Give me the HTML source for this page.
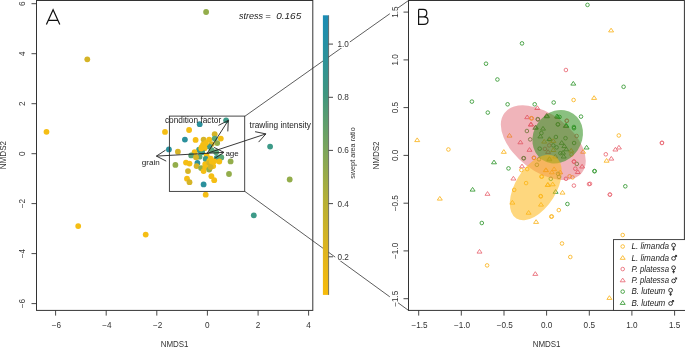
<!DOCTYPE html><html><head><meta charset="utf-8"><style>html,body{margin:0;padding:0;background:#fff;overflow:hidden}svg{display:block;will-change:transform}</style></head><body><svg width="685" height="347" viewBox="0 0 685 347">
<rect width="685" height="347" fill="#fff"/>
<path d="M244.8,116.3L408.5,0.5M244.8,191.4L408.5,310.4" stroke="#333" stroke-width="0.8" fill="none"/>
<circle cx="46.5" cy="131.8" r="2.9" fill="#f5be14"/>
<circle cx="87.3" cy="59.3" r="2.9" fill="#d5b427"/>
<circle cx="78.2" cy="226.1" r="2.9" fill="#f5be14"/>
<circle cx="145.7" cy="234.6" r="2.9" fill="#f5be14"/>
<circle cx="206.1" cy="12.0" r="2.9" fill="#93ad4b"/>
<circle cx="270.1" cy="146.6" r="2.9" fill="#3d9a88"/>
<circle cx="289.7" cy="179.5" r="2.9" fill="#93ad4b"/>
<circle cx="253.8" cy="215.3" r="2.9" fill="#3d9a88"/>
<circle cx="230.6" cy="161.4" r="2.9" fill="#93ad4b"/>
<circle cx="229.0" cy="174.0" r="2.9" fill="#93ad4b"/>
<circle cx="205.7" cy="194.7" r="2.9" fill="#f5be14"/>
<circle cx="197.4" cy="163.0" r="2.9" fill="#2b909c"/>
<circle cx="165.0" cy="131.9" r="2.9" fill="#f5be14"/>
<circle cx="189.1" cy="130.0" r="2.9" fill="#f5be14"/>
<circle cx="199.7" cy="124.2" r="2.9" fill="#2b909c"/>
<circle cx="184.9" cy="139.6" r="2.9" fill="#2b909c"/>
<circle cx="195.6" cy="139.9" r="2.9" fill="#f5be14"/>
<circle cx="168.9" cy="149.4" r="2.9" fill="#2b909c"/>
<circle cx="177.9" cy="151.7" r="2.9" fill="#d5b427"/>
<circle cx="226.1" cy="120.3" r="2.9" fill="#3d9a88"/>
<circle cx="203.6" cy="139.6" r="2.9" fill="#d5b427"/>
<circle cx="209.2" cy="139.6" r="2.9" fill="#f5be14"/>
<circle cx="214.7" cy="134.2" r="2.9" fill="#d5b427"/>
<circle cx="220.8" cy="138.6" r="2.9" fill="#f5be14"/>
<circle cx="214.7" cy="138.6" r="2.9" fill="#5aa677"/>
<circle cx="217.2" cy="143.1" r="2.9" fill="#93ad4b"/>
<circle cx="211.7" cy="144.1" r="2.9" fill="#d5b427"/>
<circle cx="209.2" cy="146.6" r="2.9" fill="#3d9a88"/>
<circle cx="199.1" cy="149.7" r="2.9" fill="#3d9a88"/>
<circle cx="211.7" cy="150.2" r="2.9" fill="#5aa677"/>
<circle cx="216.2" cy="152.2" r="2.9" fill="#5aa677"/>
<circle cx="220.8" cy="157.2" r="2.9" fill="#5aa677"/>
<circle cx="203.1" cy="144.6" r="2.9" fill="#f5be14"/>
<circle cx="206.0" cy="143.0" r="2.9" fill="#f5be14"/>
<circle cx="201.6" cy="147.1" r="2.9" fill="#f5be14"/>
<circle cx="204.6" cy="148.2" r="2.9" fill="#f5be14"/>
<circle cx="194.6" cy="152.2" r="2.9" fill="#f5be14"/>
<circle cx="200.1" cy="150.4" r="2.9" fill="#3d9a88"/>
<circle cx="202.1" cy="152.2" r="2.9" fill="#3d9a88"/>
<circle cx="191.2" cy="155.4" r="2.9" fill="#5aa677"/>
<circle cx="199.6" cy="156.7" r="2.9" fill="#5aa677"/>
<circle cx="196.0" cy="157.2" r="2.9" fill="#d5b427"/>
<circle cx="206.7" cy="155.7" r="2.9" fill="#f5be14"/>
<circle cx="201.3" cy="148.6" r="2.9" fill="#f5be14"/>
<circle cx="205.7" cy="159.0" r="2.9" fill="#3d9a88"/>
<circle cx="210.7" cy="158.6" r="2.9" fill="#f5be14"/>
<circle cx="216.7" cy="158.0" r="2.9" fill="#3d9a88"/>
<circle cx="221.3" cy="157.5" r="2.9" fill="#5aa677"/>
<circle cx="219.3" cy="161.5" r="2.9" fill="#f5be14"/>
<circle cx="209.2" cy="161.2" r="2.9" fill="#f5be14"/>
<circle cx="214.2" cy="161.2" r="2.9" fill="#f5be14"/>
<circle cx="186.0" cy="162.6" r="2.9" fill="#f5be14"/>
<circle cx="189.5" cy="163.6" r="2.9" fill="#f5be14"/>
<circle cx="196.6" cy="166.1" r="2.9" fill="#d5b427"/>
<circle cx="205.2" cy="164.1" r="2.9" fill="#f5be14"/>
<circle cx="209.2" cy="163.1" r="2.9" fill="#d5b427"/>
<circle cx="211.7" cy="161.5" r="2.9" fill="#f5be14"/>
<circle cx="213.2" cy="166.1" r="2.9" fill="#f5be14"/>
<circle cx="201.1" cy="168.1" r="2.9" fill="#93ad4b"/>
<circle cx="205.2" cy="167.1" r="2.9" fill="#f5be14"/>
<circle cx="203.6" cy="171.1" r="2.9" fill="#f5be14"/>
<circle cx="209.2" cy="169.6" r="2.9" fill="#93ad4b"/>
<circle cx="210.7" cy="167.1" r="2.9" fill="#d5b427"/>
<circle cx="188.0" cy="171.1" r="2.9" fill="#d5b427"/>
<circle cx="187.0" cy="178.7" r="2.9" fill="#f5be14"/>
<circle cx="189.5" cy="182.2" r="2.9" fill="#d5b427"/>
<circle cx="211.4" cy="176.2" r="2.9" fill="#f5be14"/>
<circle cx="214.2" cy="180.2" r="2.9" fill="#f5be14"/>
<circle cx="203.6" cy="184.4" r="2.9" fill="#2b909c"/>
<circle cx="175.4" cy="164.9" r="2.9" fill="#93ad4b"/>
<rect x="169.4" y="116.1" width="75.3" height="75.3" fill="none" stroke="#333" stroke-width="0.9"/>
<path d="M207.2,153.3L228.3,120.4M218.5,125.4L228.3,120.4M227.8,131.4L228.3,120.4" stroke="#222" stroke-width="0.9" fill="none"/>
<path d="M207.2,153.3L265.9,133.9M255.1,131.7L265.9,133.9M258.6,142.1L265.9,133.9" stroke="#222" stroke-width="0.9" fill="none"/>
<path d="M207.2,153.3L223.9,152.4M214.1,147.4L223.9,152.4M214.7,158.4L223.9,152.4" stroke="#222" stroke-width="0.9" fill="none"/>
<path d="M207.2,153.3L156.4,156.1M166.2,161.1L156.4,156.1M165.6,150.1L156.4,156.1" stroke="#222" stroke-width="0.9" fill="none"/>
<text x="164.9" y="122.8" font-family="Liberation Sans" font-size="8.3" fill="#222">condition factor</text>
<text x="249.6" y="127.7" font-family="Liberation Sans" font-size="8.3" fill="#222">trawling intensity</text>
<text x="141.7" y="164.7" font-family="Liberation Sans" font-size="8.1" fill="#222">grain</text>
<text x="225.4" y="156.4" font-family="Liberation Sans" font-size="8.0" fill="#222">age</text>
<text x="238.9" y="18.8" font-family="Liberation Sans" font-size="9.3" font-style="italic" fill="#222" textLength="24.2" lengthAdjust="spacingAndGlyphs">stress</text>
<text x="265.2" y="18.8" font-family="Liberation Sans" font-size="9.3" font-style="italic" fill="#222">=</text>
<text x="276.2" y="18.8" font-family="Liberation Sans" font-size="9.3" font-style="italic" fill="#222" textLength="25.0" lengthAdjust="spacingAndGlyphs">0.165</text>
<rect x="36.5" y="0.5" width="276.3" height="309.9" fill="none" stroke="#333" stroke-width="1"/>
<path d="M46.4,24.5L53.1,9.8L59.8,24.5M48.3,20.4L57.9,20.4" stroke="#111" stroke-width="1.2" fill="none"/>
<path d="M55.6,310.4L55.6,315.59999999999997M106.2,310.4L106.2,315.59999999999997M156.8,310.4L156.8,315.59999999999997M207.4,310.4L207.4,315.59999999999997M258.1,310.4L258.1,315.59999999999997M308.6,310.4L308.6,315.59999999999997M36.5,303.6L31.5,303.6M36.5,253.6L31.5,253.6M36.5,203.6L31.5,203.6M36.5,153.7L31.5,153.7M36.5,103.7L31.5,103.7M36.5,53.7L31.5,53.7M36.5,3.7L31.5,3.7" stroke="#333" stroke-width="0.9" fill="none"/>
<text x="56.4" y="327.7" font-family="Liberation Sans" font-size="8.2" fill="#333" text-anchor="middle">−6</text>
<text x="107.0" y="327.7" font-family="Liberation Sans" font-size="8.2" fill="#333" text-anchor="middle">−4</text>
<text x="157.7" y="327.7" font-family="Liberation Sans" font-size="8.2" fill="#333" text-anchor="middle">−2</text>
<text x="207.4" y="327.7" font-family="Liberation Sans" font-size="8.2" fill="#333" text-anchor="middle">0</text>
<text x="258.1" y="327.7" font-family="Liberation Sans" font-size="8.2" fill="#333" text-anchor="middle">2</text>
<text x="308.6" y="327.7" font-family="Liberation Sans" font-size="8.2" fill="#333" text-anchor="middle">4</text>
<text transform="translate(24.7,303.6) rotate(-90)" font-family="Liberation Sans" font-size="8.2" fill="#333" text-anchor="middle">−6</text>
<text transform="translate(24.7,253.6) rotate(-90)" font-family="Liberation Sans" font-size="8.2" fill="#333" text-anchor="middle">−4</text>
<text transform="translate(24.7,203.6) rotate(-90)" font-family="Liberation Sans" font-size="8.2" fill="#333" text-anchor="middle">−2</text>
<text transform="translate(24.7,153.7) rotate(-90)" font-family="Liberation Sans" font-size="8.2" fill="#333" text-anchor="middle">0</text>
<text transform="translate(24.7,103.7) rotate(-90)" font-family="Liberation Sans" font-size="8.2" fill="#333" text-anchor="middle">2</text>
<text transform="translate(24.7,53.7) rotate(-90)" font-family="Liberation Sans" font-size="8.2" fill="#333" text-anchor="middle">4</text>
<text transform="translate(24.7,3.7) rotate(-90)" font-family="Liberation Sans" font-size="8.2" fill="#333" text-anchor="middle">6</text>
<text x="174.6" y="346.6" font-family="Liberation Sans" font-size="8.6" fill="#333" text-anchor="middle" textLength="27.9" lengthAdjust="spacingAndGlyphs">NMDS1</text>
<text transform="translate(6.4,155.1) rotate(-90)" font-family="Liberation Sans" font-size="8.6" fill="#333" text-anchor="middle" textLength="28.2" lengthAdjust="spacingAndGlyphs">NMDS2</text>
<defs><linearGradient id="cb" x1="0" y1="1" x2="0" y2="0"><stop offset="0" stop-color="#f7bb0a"/><stop offset="0.14" stop-color="#e2b51c"/><stop offset="0.33" stop-color="#b8b034"/><stop offset="0.52" stop-color="#7ca65c"/><stop offset="0.72" stop-color="#3f9680"/><stop offset="0.9" stop-color="#2590a4"/><stop offset="1" stop-color="#1b8cb4"/></linearGradient></defs>
<rect x="322.9" y="15.3" width="5.6" height="279.6" fill="url(#cb)"/>
<path d="M328.6,15.3L328.6,294.9" stroke="#444" stroke-width="0.7" fill="none"/>
<rect x="335.2" y="39.9" width="14.6" height="8.2" fill="#fff"/>
<text x="337.4" y="47.1" font-family="Liberation Sans" font-size="8.2" fill="#333">1.0</text>
<text x="337.4" y="100.3" font-family="Liberation Sans" font-size="8.2" fill="#333">0.8</text>
<text x="337.4" y="153.4" font-family="Liberation Sans" font-size="8.2" fill="#333">0.6</text>
<text x="337.4" y="206.6" font-family="Liberation Sans" font-size="8.2" fill="#333">0.4</text>
<rect x="335.2" y="252.6" width="14.6" height="8.2" fill="#fff"/>
<text x="337.4" y="259.8" font-family="Liberation Sans" font-size="8.2" fill="#333">0.2</text>
<path d="M328.6,44.1L333.0,44.1M328.6,97.3L333.0,97.3M328.6,150.4L333.0,150.4M328.6,203.6L333.0,203.6M328.6,256.8L333.0,256.8" stroke="#333" stroke-width="0.9" fill="none"/>
<text transform="translate(355.4,153.0) rotate(-90)" font-family="Liberation Sans" font-size="7.5" fill="#333" text-anchor="middle" textLength="51.5" lengthAdjust="spacingAndGlyphs">swept area ratio</text>
<circle cx="486.0" cy="63.7" r="1.8" fill="none" stroke="#3d9d3a" stroke-width="0.9"/>
<circle cx="587.5" cy="4.9" r="1.8" fill="none" stroke="#3d9d3a" stroke-width="0.9"/>
<circle cx="522.0" cy="43.4" r="1.8" fill="none" stroke="#3d9d3a" stroke-width="0.9"/>
<circle cx="565.9" cy="70.0" r="1.8" fill="none" stroke="#ea6f7a" stroke-width="0.9"/>
<path d="M611.1,28.2L613.6,31.9L608.6,31.9Z" fill="none" stroke="#fbb829" stroke-width="0.9" stroke-linejoin="round"/>
<path d="M573.3,81.4L575.8,85.1L570.8,85.1Z" fill="none" stroke="#3d9d3a" stroke-width="0.9" stroke-linejoin="round"/>
<circle cx="623.6" cy="86.8" r="1.8" fill="none" stroke="#3d9d3a" stroke-width="0.9"/>
<circle cx="553.7" cy="102.5" r="1.8" fill="none" stroke="#3d9d3a" stroke-width="0.9"/>
<circle cx="573.6" cy="100.0" r="1.8" fill="none" stroke="#fbb829" stroke-width="0.9"/>
<path d="M594.1,95.7L596.6,99.4L591.6,99.4Z" fill="none" stroke="#fbb829" stroke-width="0.9" stroke-linejoin="round"/>
<circle cx="581.0" cy="116.6" r="1.8" fill="none" stroke="#3d9d3a" stroke-width="0.9"/>
<circle cx="497.4" cy="79.5" r="1.8" fill="none" stroke="#3d9d3a" stroke-width="0.9"/>
<circle cx="471.9" cy="101.6" r="1.8" fill="none" stroke="#3d9d3a" stroke-width="0.9"/>
<circle cx="487.8" cy="112.6" r="1.8" fill="none" stroke="#3d9d3a" stroke-width="0.9"/>
<circle cx="507.6" cy="104.3" r="1.8" fill="none" stroke="#3d9d3a" stroke-width="0.9"/>
<circle cx="534.7" cy="104.3" r="1.8" fill="none" stroke="#3d9d3a" stroke-width="0.9"/>
<path d="M537.3,105.8L539.8,109.5L534.8,109.5Z" fill="none" stroke="#ea6f7a" stroke-width="0.9" stroke-linejoin="round"/>
<path d="M527.2,115.0L529.7,118.7L524.7,118.7Z" fill="none" stroke="#ea6f7a" stroke-width="0.9" stroke-linejoin="round"/>
<circle cx="531.8" cy="118.4" r="1.8" fill="none" stroke="#fbb829" stroke-width="0.9"/>
<circle cx="537.9" cy="119.5" r="1.8" fill="none" stroke="#3d9d3a" stroke-width="0.9"/>
<path d="M531.1,122.2L533.6,125.9L528.6,125.9Z" fill="none" stroke="#ea6f7a" stroke-width="0.9" stroke-linejoin="round"/>
<path d="M547.0,113.6L549.5,117.3L544.5,117.3Z" fill="none" stroke="#3d9d3a" stroke-width="0.9" stroke-linejoin="round"/>
<path d="M546.5,113.6L549.0,117.3L544.0,117.3Z" fill="none" stroke="#3d9d3a" stroke-width="0.9" stroke-linejoin="round"/>
<path d="M557.0,114.0L559.5,117.7L554.5,117.7Z" fill="none" stroke="#3d9d3a" stroke-width="0.9" stroke-linejoin="round"/>
<circle cx="559.5" cy="117.0" r="1.8" fill="none" stroke="#3d9d3a" stroke-width="0.9"/>
<circle cx="566.7" cy="120.8" r="1.8" fill="none" stroke="#ea6f7a" stroke-width="0.9"/>
<circle cx="558.0" cy="124.4" r="1.8" fill="none" stroke="#3d9d3a" stroke-width="0.9"/>
<path d="M566.3,123.4L568.8,127.1L563.8,127.1Z" fill="none" stroke="#3d9d3a" stroke-width="0.9" stroke-linejoin="round"/>
<circle cx="573.9" cy="127.0" r="1.8" fill="none" stroke="#3d9d3a" stroke-width="0.9"/>
<circle cx="618.8" cy="135.5" r="1.8" fill="none" stroke="#fbb829" stroke-width="0.9"/>
<circle cx="662.0" cy="142.8" r="1.8" fill="none" stroke="#ea6f7a" stroke-width="0.9"/>
<path d="M615.4,147.3L617.9,151.0L612.9,151.0Z" fill="none" stroke="#ea6f7a" stroke-width="0.9" stroke-linejoin="round"/>
<path d="M618.9,145.3L621.4,149.0L616.4,149.0Z" fill="none" stroke="#ea6f7a" stroke-width="0.9" stroke-linejoin="round"/>
<circle cx="605.8" cy="154.3" r="1.8" fill="none" stroke="#ea6f7a" stroke-width="0.9"/>
<path d="M611.3,156.4L613.8,160.1L608.8,160.1Z" fill="none" stroke="#ea6f7a" stroke-width="0.9" stroke-linejoin="round"/>
<path d="M606.6,158.5L609.1,162.2L604.1,162.2Z" fill="none" stroke="#fbb829" stroke-width="0.9" stroke-linejoin="round"/>
<path d="M417.2,137.9L419.7,141.6L414.7,141.6Z" fill="none" stroke="#fbb829" stroke-width="0.9" stroke-linejoin="round"/>
<circle cx="448.4" cy="149.5" r="1.8" fill="none" stroke="#fbb829" stroke-width="0.9"/>
<path d="M494.0,160.1L496.5,163.8L491.5,163.8Z" fill="none" stroke="#3d9d3a" stroke-width="0.9" stroke-linejoin="round"/>
<path d="M472.6,187.4L475.1,191.1L470.1,191.1Z" fill="none" stroke="#3d9d3a" stroke-width="0.9" stroke-linejoin="round"/>
<path d="M487.5,191.6L490.0,195.3L485.0,195.3Z" fill="none" stroke="#ea6f7a" stroke-width="0.9" stroke-linejoin="round"/>
<path d="M439.8,196.4L442.3,200.1L437.3,200.1Z" fill="none" stroke="#fbb829" stroke-width="0.9" stroke-linejoin="round"/>
<path d="M530.8,122.3L533.3,126.0L528.3,126.0Z" fill="none" stroke="#ea6f7a" stroke-width="0.9" stroke-linejoin="round"/>
<path d="M535.3,125.6L537.8,129.3L532.8,129.3Z" fill="none" stroke="#3d9d3a" stroke-width="0.9" stroke-linejoin="round"/>
<circle cx="526.9" cy="131.0" r="1.8" fill="none" stroke="#3d9d3a" stroke-width="0.9"/>
<path d="M509.5,133.4L512.0,137.1L507.0,137.1Z" fill="none" stroke="#fbb829" stroke-width="0.9" stroke-linejoin="round"/>
<circle cx="530.2" cy="139.4" r="1.8" fill="none" stroke="#3d9d3a" stroke-width="0.9"/>
<path d="M520.4,140.1L522.9,143.8L517.9,143.8Z" fill="none" stroke="#ea6f7a" stroke-width="0.9" stroke-linejoin="round"/>
<path d="M529.5,147.6L532.0,151.3L527.0,151.3Z" fill="none" stroke="#ea6f7a" stroke-width="0.9" stroke-linejoin="round"/>
<path d="M503.8,149.6L506.3,153.3L501.3,153.3Z" fill="none" stroke="#fbb829" stroke-width="0.9" stroke-linejoin="round"/>
<circle cx="523.9" cy="158.2" r="1.8" fill="none" stroke="#3d9d3a" stroke-width="0.9"/>
<circle cx="533.9" cy="157.8" r="1.8" fill="none" stroke="#fbb829" stroke-width="0.9"/>
<path d="M546.8,114.1L549.3,117.8L544.3,117.8Z" fill="none" stroke="#3d9d3a" stroke-width="0.9" stroke-linejoin="round"/>
<path d="M557.8,114.8L560.3,118.5L555.3,118.5Z" fill="none" stroke="#3d9d3a" stroke-width="0.9" stroke-linejoin="round"/>
<circle cx="537.8" cy="119.1" r="1.8" fill="none" stroke="#3d9d3a" stroke-width="0.9"/>
<circle cx="531.3" cy="118.2" r="1.8" fill="none" stroke="#fbb829" stroke-width="0.9"/>
<circle cx="566.9" cy="120.8" r="1.8" fill="none" stroke="#ea6f7a" stroke-width="0.9"/>
<circle cx="557.8" cy="124.3" r="1.8" fill="none" stroke="#3d9d3a" stroke-width="0.9"/>
<path d="M566.3,123.8L568.8,127.5L563.8,127.5Z" fill="none" stroke="#3d9d3a" stroke-width="0.9" stroke-linejoin="round"/>
<circle cx="574.0" cy="128.2" r="1.8" fill="none" stroke="#3d9d3a" stroke-width="0.9"/>
<path d="M535.8,125.1L538.3,128.8L533.3,128.8Z" fill="none" stroke="#3d9d3a" stroke-width="0.9" stroke-linejoin="round"/>
<path d="M543.0,126.4L545.5,130.1L540.5,130.1Z" fill="none" stroke="#3d9d3a" stroke-width="0.9" stroke-linejoin="round"/>
<circle cx="541.4" cy="133.1" r="1.8" fill="none" stroke="#3d9d3a" stroke-width="0.9"/>
<path d="M540.4,134.2L542.9,137.9L537.9,137.9Z" fill="none" stroke="#3d9d3a" stroke-width="0.9" stroke-linejoin="round"/>
<circle cx="555.9" cy="137.0" r="1.8" fill="none" stroke="#3d9d3a" stroke-width="0.9"/>
<circle cx="576.6" cy="136.0" r="1.8" fill="none" stroke="#ea6f7a" stroke-width="0.9"/>
<circle cx="565.5" cy="138.2" r="1.8" fill="none" stroke="#3d9d3a" stroke-width="0.9"/>
<path d="M544.2,139.4L546.7,143.1L541.7,143.1Z" fill="none" stroke="#fbb829" stroke-width="0.9" stroke-linejoin="round"/>
<circle cx="550.1" cy="140.3" r="1.8" fill="none" stroke="#fbb829" stroke-width="0.9"/>
<path d="M549.4,136.8L551.9,140.5L546.9,140.5Z" fill="none" stroke="#3d9d3a" stroke-width="0.9" stroke-linejoin="round"/>
<path d="M553.3,138.7L555.8,142.4L550.8,142.4Z" fill="none" stroke="#fbb829" stroke-width="0.9" stroke-linejoin="round"/>
<circle cx="574.1" cy="143.0" r="1.8" fill="none" stroke="#3d9d3a" stroke-width="0.9"/>
<circle cx="553.3" cy="145.4" r="1.8" fill="none" stroke="#3d9d3a" stroke-width="0.9"/>
<circle cx="556.6" cy="147.4" r="1.8" fill="none" stroke="#3d9d3a" stroke-width="0.9"/>
<circle cx="549.2" cy="145.4" r="1.8" fill="none" stroke="#ea6f7a" stroke-width="0.9"/>
<path d="M561.7,140.6L564.2,144.3L559.2,144.3Z" fill="none" stroke="#3d9d3a" stroke-width="0.9" stroke-linejoin="round"/>
<path d="M564.3,143.9L566.8,147.6L561.8,147.6Z" fill="none" stroke="#3d9d3a" stroke-width="0.9" stroke-linejoin="round"/>
<circle cx="539.7" cy="148.7" r="1.8" fill="none" stroke="#3d9d3a" stroke-width="0.9"/>
<circle cx="544.9" cy="148.9" r="1.8" fill="none" stroke="#ea6f7a" stroke-width="0.9"/>
<path d="M566.3,147.1L568.8,150.8L563.8,150.8Z" fill="none" stroke="#3d9d3a" stroke-width="0.9" stroke-linejoin="round"/>
<path d="M571.2,148.4L573.7,152.1L568.7,152.1Z" fill="none" stroke="#fbb829" stroke-width="0.9" stroke-linejoin="round"/>
<path d="M563.0,150.4L565.5,154.1L560.5,154.1Z" fill="none" stroke="#3d9d3a" stroke-width="0.9" stroke-linejoin="round"/>
<path d="M553.3,147.8L555.8,151.5L550.8,151.5Z" fill="none" stroke="#fbb829" stroke-width="0.9" stroke-linejoin="round"/>
<path d="M548.1,149.7L550.6,153.4L545.6,153.4Z" fill="none" stroke="#ea6f7a" stroke-width="0.9" stroke-linejoin="round"/>
<circle cx="560.4" cy="153.2" r="1.8" fill="none" stroke="#3d9d3a" stroke-width="0.9"/>
<circle cx="571.5" cy="154.5" r="1.8" fill="none" stroke="#fbb829" stroke-width="0.9"/>
<path d="M555.3,154.3L557.8,158.0L552.8,158.0Z" fill="none" stroke="#fbb829" stroke-width="0.9" stroke-linejoin="round"/>
<path d="M563.7,154.3L566.2,158.0L561.2,158.0Z" fill="none" stroke="#3d9d3a" stroke-width="0.9" stroke-linejoin="round"/>
<path d="M549.4,156.2L551.9,159.9L546.9,159.9Z" fill="none" stroke="#fbb829" stroke-width="0.9" stroke-linejoin="round"/>
<path d="M565.8,123.6L568.3,127.3L563.3,127.3Z" fill="none" stroke="#3d9d3a" stroke-width="0.9" stroke-linejoin="round"/>
<path d="M586.6,145.3L589.1,149.0L584.1,149.0Z" fill="none" stroke="#3d9d3a" stroke-width="0.9" stroke-linejoin="round"/>
<path d="M583.1,149.5L585.6,153.2L580.6,153.2Z" fill="none" stroke="#fbb829" stroke-width="0.9" stroke-linejoin="round"/>
<circle cx="574.0" cy="161.7" r="1.8" fill="none" stroke="#ea6f7a" stroke-width="0.9"/>
<circle cx="576.8" cy="163.9" r="1.8" fill="none" stroke="#3d9d3a" stroke-width="0.9"/>
<circle cx="661.9" cy="143.0" r="1.8" fill="none" stroke="#ea6f7a" stroke-width="0.9"/>
<circle cx="594.6" cy="171.1" r="1.8" fill="none" stroke="#3d9d3a" stroke-width="0.9"/>
<circle cx="590.0" cy="183.8" r="1.8" fill="none" stroke="#ea6f7a" stroke-width="0.9"/>
<circle cx="625.3" cy="186.3" r="1.8" fill="none" stroke="#3d9d3a" stroke-width="0.9"/>
<circle cx="609.8" cy="194.6" r="1.8" fill="none" stroke="#ea6f7a" stroke-width="0.9"/>
<path d="M549.4,157.1L551.9,160.8L546.9,160.8Z" fill="none" stroke="#3d9d3a" stroke-width="0.9" stroke-linejoin="round"/>
<circle cx="573.9" cy="161.5" r="1.8" fill="none" stroke="#ea6f7a" stroke-width="0.9"/>
<path d="M582.1,164.3L584.6,168.0L579.6,168.0Z" fill="none" stroke="#ea6f7a" stroke-width="0.9" stroke-linejoin="round"/>
<circle cx="575.3" cy="168.7" r="1.8" fill="none" stroke="#ea6f7a" stroke-width="0.9"/>
<path d="M577.8,169.8L580.3,173.5L575.3,173.5Z" fill="none" stroke="#ea6f7a" stroke-width="0.9" stroke-linejoin="round"/>
<path d="M545.8,167.9L548.3,171.6L543.3,171.6Z" fill="none" stroke="#fbb829" stroke-width="0.9" stroke-linejoin="round"/>
<path d="M554.1,166.9L556.6,170.6L551.6,170.6Z" fill="none" stroke="#fbb829" stroke-width="0.9" stroke-linejoin="round"/>
<path d="M551.8,170.1L554.3,173.8L549.3,173.8Z" fill="none" stroke="#fbb829" stroke-width="0.9" stroke-linejoin="round"/>
<path d="M560.2,170.1L562.7,173.8L557.7,173.8Z" fill="none" stroke="#fbb829" stroke-width="0.9" stroke-linejoin="round"/>
<circle cx="558.0" cy="173.8" r="1.8" fill="none" stroke="#3d9d3a" stroke-width="0.9"/>
<circle cx="559.0" cy="176.9" r="1.8" fill="none" stroke="#3d9d3a" stroke-width="0.9"/>
<circle cx="541.4" cy="176.6" r="1.8" fill="none" stroke="#fbb829" stroke-width="0.9"/>
<circle cx="550.8" cy="178.8" r="1.8" fill="none" stroke="#3d9d3a" stroke-width="0.9"/>
<circle cx="566.0" cy="178.8" r="1.8" fill="none" stroke="#ea6f7a" stroke-width="0.9"/>
<circle cx="569.6" cy="176.3" r="1.8" fill="none" stroke="#fbb829" stroke-width="0.9"/>
<circle cx="572.5" cy="177.4" r="1.8" fill="none" stroke="#fbb829" stroke-width="0.9"/>
<circle cx="594.5" cy="171.2" r="1.8" fill="none" stroke="#3d9d3a" stroke-width="0.9"/>
<circle cx="573.9" cy="185.6" r="1.8" fill="none" stroke="#ea6f7a" stroke-width="0.9"/>
<circle cx="589.0" cy="184.1" r="1.8" fill="none" stroke="#ea6f7a" stroke-width="0.9"/>
<path d="M547.9,182.4L550.4,186.1L545.4,186.1Z" fill="none" stroke="#fbb829" stroke-width="0.9" stroke-linejoin="round"/>
<path d="M552.7,182.1L555.2,185.8L550.2,185.8Z" fill="none" stroke="#fbb829" stroke-width="0.9" stroke-linejoin="round"/>
<path d="M555.6,189.6L558.1,193.3L553.1,193.3Z" fill="none" stroke="#3d9d3a" stroke-width="0.9" stroke-linejoin="round"/>
<path d="M562.5,190.4L565.0,194.1L560.0,194.1Z" fill="none" stroke="#fbb829" stroke-width="0.9" stroke-linejoin="round"/>
<circle cx="540.7" cy="196.1" r="1.8" fill="none" stroke="#fbb829" stroke-width="0.9"/>
<circle cx="567.4" cy="204.0" r="1.8" fill="none" stroke="#3d9d3a" stroke-width="0.9"/>
<circle cx="508.5" cy="168.4" r="1.8" fill="none" stroke="#3d9d3a" stroke-width="0.9"/>
<circle cx="523.5" cy="158.2" r="1.8" fill="none" stroke="#3d9d3a" stroke-width="0.9"/>
<circle cx="534.0" cy="157.9" r="1.8" fill="none" stroke="#fbb829" stroke-width="0.9"/>
<circle cx="539.0" cy="159.3" r="1.8" fill="none" stroke="#3d9d3a" stroke-width="0.9"/>
<circle cx="536.9" cy="164.8" r="1.8" fill="none" stroke="#3d9d3a" stroke-width="0.9"/>
<path d="M522.0,164.1L524.5,167.8L519.5,167.8Z" fill="none" stroke="#ea6f7a" stroke-width="0.9" stroke-linejoin="round"/>
<circle cx="521.4" cy="170.1" r="1.8" fill="none" stroke="#fbb829" stroke-width="0.9"/>
<circle cx="527.2" cy="169.1" r="1.8" fill="none" stroke="#fbb829" stroke-width="0.9"/>
<path d="M546.0,167.9L548.5,171.6L543.5,171.6Z" fill="none" stroke="#fbb829" stroke-width="0.9" stroke-linejoin="round"/>
<circle cx="541.9" cy="176.6" r="1.8" fill="none" stroke="#fbb829" stroke-width="0.9"/>
<path d="M513.4,176.3L515.9,180.0L510.9,180.0Z" fill="none" stroke="#ea6f7a" stroke-width="0.9" stroke-linejoin="round"/>
<circle cx="526.1" cy="183.1" r="1.8" fill="none" stroke="#fbb829" stroke-width="0.9"/>
<path d="M547.7,182.8L550.2,186.5L545.2,186.5Z" fill="none" stroke="#fbb829" stroke-width="0.9" stroke-linejoin="round"/>
<circle cx="514.2" cy="189.9" r="1.8" fill="none" stroke="#fbb829" stroke-width="0.9"/>
<circle cx="540.8" cy="196.4" r="1.8" fill="none" stroke="#fbb829" stroke-width="0.9"/>
<path d="M512.4,200.4L514.9,204.1L509.9,204.1Z" fill="none" stroke="#fbb829" stroke-width="0.9" stroke-linejoin="round"/>
<path d="M541.0,202.4L543.5,206.1L538.5,206.1Z" fill="none" stroke="#fbb829" stroke-width="0.9" stroke-linejoin="round"/>
<path d="M528.6,210.5L531.1,214.2L526.1,214.2Z" fill="none" stroke="#fbb829" stroke-width="0.9" stroke-linejoin="round"/>
<path d="M536.1,219.7L538.6,223.4L533.6,223.4Z" fill="none" stroke="#fbb829" stroke-width="0.9" stroke-linejoin="round"/>
<circle cx="551.3" cy="216.6" r="1.8" fill="none" stroke="#fbb829" stroke-width="0.9"/>
<circle cx="610.0" cy="194.6" r="1.8" fill="none" stroke="#ea6f7a" stroke-width="0.9"/>
<circle cx="558.8" cy="210.1" r="1.8" fill="none" stroke="#fbb829" stroke-width="0.9"/>
<circle cx="551.8" cy="216.5" r="1.8" fill="none" stroke="#fbb829" stroke-width="0.9"/>
<circle cx="622.7" cy="235.0" r="1.8" fill="none" stroke="#fbb829" stroke-width="0.9"/>
<circle cx="562.0" cy="243.5" r="1.8" fill="none" stroke="#fbb829" stroke-width="0.9"/>
<circle cx="570.3" cy="257.0" r="1.8" fill="none" stroke="#fbb829" stroke-width="0.9"/>
<circle cx="481.8" cy="223.0" r="1.8" fill="none" stroke="#3d9d3a" stroke-width="0.9"/>
<path d="M479.5,249.4L482.0,253.1L477.0,253.1Z" fill="none" stroke="#ea6f7a" stroke-width="0.9" stroke-linejoin="round"/>
<circle cx="487.1" cy="265.4" r="1.8" fill="none" stroke="#fbb829" stroke-width="0.9"/>
<path d="M535.3,271.7L537.8,275.4L532.8,275.4Z" fill="none" stroke="#ea6f7a" stroke-width="0.9" stroke-linejoin="round"/>
<path d="M609.4,295.7L611.9,299.4L606.9,299.4Z" fill="none" stroke="#fbb829" stroke-width="0.9" stroke-linejoin="round"/>
<ellipse cx="543.3" cy="142.7" rx="48.9" ry="28.4" transform="rotate(37.5 543.3 142.7)" fill="#da4452" fill-opacity="0.4"/>
<ellipse cx="557.7" cy="136.7" rx="27.8" ry="24.1" transform="rotate(-56 557.7 136.7)" fill="#2a8c18" fill-opacity="0.55"/>
<ellipse cx="535.8" cy="187.5" rx="36.6" ry="20.4" transform="rotate(-58 535.8 187.5)" fill="#fdb614" fill-opacity="0.55"/>
<rect x="408.5" y="0.5" width="275.9" height="309.9" fill="none" stroke="#333" stroke-width="1"/>
<path d="M418.6,9.4L418.6,24.4L423.8,24.4C427,24.4 428,22.5 428,20.6C428,18.5 426.5,16.9 423.8,16.9L418.6,16.9M418.6,9.4L423.3,9.4C425.5,9.4 426.8,10.8 426.8,13.1C426.8,15.3 425.3,16.9 423.3,16.9" stroke="#111" stroke-width="1.2" fill="none"/>
<path d="M418.7,310.4L418.7,315.59999999999997M408.5,298.7L403.5,298.7M461.3,310.4L461.3,315.59999999999997M408.5,250.9L403.5,250.9M504.0,310.4L504.0,315.59999999999997M408.5,203.2L403.5,203.2M546.6,310.4L546.6,315.59999999999997M408.5,155.4L403.5,155.4M589.3,310.4L589.3,315.59999999999997M408.5,107.6L403.5,107.6M631.9,310.4L631.9,315.59999999999997M408.5,59.9L403.5,59.9M674.6,310.4L674.6,315.59999999999997M408.5,12.1L403.5,12.1" stroke="#333" stroke-width="0.9" fill="none"/>
<text x="419.5" y="327.7" font-family="Liberation Sans" font-size="8.2" fill="#333" text-anchor="middle">−1.5</text>
<rect x="389.8" y="290.2" width="8.2" height="17" fill="#fff"/>
<text transform="translate(397.5,298.7) rotate(-90)" font-family="Liberation Sans" font-size="8.2" fill="#333" text-anchor="middle">−1.5</text>
<text x="462.1" y="327.7" font-family="Liberation Sans" font-size="8.2" fill="#333" text-anchor="middle">−1.0</text>
<text transform="translate(397.5,250.9) rotate(-90)" font-family="Liberation Sans" font-size="8.2" fill="#333" text-anchor="middle">−1.0</text>
<text x="504.8" y="327.7" font-family="Liberation Sans" font-size="8.2" fill="#333" text-anchor="middle">−0.5</text>
<text transform="translate(397.5,203.2) rotate(-90)" font-family="Liberation Sans" font-size="8.2" fill="#333" text-anchor="middle">−0.5</text>
<text x="546.6" y="327.7" font-family="Liberation Sans" font-size="8.2" fill="#333" text-anchor="middle">0.0</text>
<text transform="translate(397.5,155.4) rotate(-90)" font-family="Liberation Sans" font-size="8.2" fill="#333" text-anchor="middle">0.0</text>
<text x="589.3" y="327.7" font-family="Liberation Sans" font-size="8.2" fill="#333" text-anchor="middle">0.5</text>
<text transform="translate(397.5,107.6) rotate(-90)" font-family="Liberation Sans" font-size="8.2" fill="#333" text-anchor="middle">0.5</text>
<text x="631.9" y="327.7" font-family="Liberation Sans" font-size="8.2" fill="#333" text-anchor="middle">1.0</text>
<text transform="translate(397.5,59.9) rotate(-90)" font-family="Liberation Sans" font-size="8.2" fill="#333" text-anchor="middle">1.0</text>
<text x="674.6" y="327.7" font-family="Liberation Sans" font-size="8.2" fill="#333" text-anchor="middle">1.5</text>
<rect x="389.8" y="3.6" width="8.2" height="17" fill="#fff"/>
<text transform="translate(397.5,12.1) rotate(-90)" font-family="Liberation Sans" font-size="8.2" fill="#333" text-anchor="middle">1.5</text>
<text x="546.6" y="346.9" font-family="Liberation Sans" font-size="8.6" fill="#333" text-anchor="middle" textLength="27.9" lengthAdjust="spacingAndGlyphs">NMDS1</text>
<text transform="translate(378.7,155.5) rotate(-90)" font-family="Liberation Sans" font-size="8.6" fill="#333" text-anchor="middle" textLength="28.2" lengthAdjust="spacingAndGlyphs">NMDS2</text>
<rect x="613.5" y="239.6" width="170.9" height="70.8" fill="#fff" stroke="#333" stroke-width="0.9"/>
<circle cx="622.7" cy="246.5" r="1.8" fill="none" stroke="#fbb829" stroke-width="0.9"/>
<text x="631.4" y="249.3" font-family="Liberation Sans" font-size="8.3" font-style="italic" fill="#1a1a1a" textLength="37.6" lengthAdjust="spacingAndGlyphs">L. limanda</text>
<path d="M673.6,247.1L673.6,250.7M672.2,249.1L675.0,249.1" stroke="#222" stroke-width="0.9" fill="none"/><circle cx="673.6" cy="245.2" r="1.9" fill="none" stroke="#222" stroke-width="0.9"/>
<path d="M622.7,255.6L625.2,259.3L620.2,259.3Z" fill="none" stroke="#fbb829" stroke-width="0.9" stroke-linejoin="round"/>
<text x="631.4" y="260.6" font-family="Liberation Sans" font-size="8.3" font-style="italic" fill="#1a1a1a" textLength="37.6" lengthAdjust="spacingAndGlyphs">L. limanda</text>
<circle cx="673.6" cy="258.4" r="1.9" fill="none" stroke="#222" stroke-width="0.9"/><path d="M674.9,257.1L676.6,255.4M675.0,255.4L676.6,255.4L676.6,257.0" stroke="#222" stroke-width="0.9" fill="none"/>
<circle cx="622.7" cy="269.06" r="1.8" fill="none" stroke="#ea6f7a" stroke-width="0.9"/>
<text x="631.4" y="271.9" font-family="Liberation Sans" font-size="8.3" font-style="italic" fill="#1a1a1a" textLength="37.6" lengthAdjust="spacingAndGlyphs">P. platessa</text>
<path d="M673.6,269.7L673.6,273.3M672.2,271.7L675.0,271.7" stroke="#222" stroke-width="0.9" fill="none"/><circle cx="673.6" cy="267.8" r="1.9" fill="none" stroke="#222" stroke-width="0.9"/>
<path d="M622.7,278.1L625.2,281.8L620.2,281.8Z" fill="none" stroke="#ea6f7a" stroke-width="0.9" stroke-linejoin="round"/>
<text x="631.4" y="283.1" font-family="Liberation Sans" font-size="8.3" font-style="italic" fill="#1a1a1a" textLength="37.6" lengthAdjust="spacingAndGlyphs">P. platessa</text>
<circle cx="673.6" cy="280.9" r="1.9" fill="none" stroke="#222" stroke-width="0.9"/><path d="M674.9,279.6L676.6,277.9M675.0,277.9L676.6,277.9L676.6,279.5" stroke="#222" stroke-width="0.9" fill="none"/>
<circle cx="622.7" cy="291.62" r="1.8" fill="none" stroke="#3d9d3a" stroke-width="0.9"/>
<text x="631.4" y="294.4" font-family="Liberation Sans" font-size="8.3" font-style="italic" fill="#1a1a1a" textLength="33.9" lengthAdjust="spacingAndGlyphs">B. luteum</text>
<path d="M670.6,292.2L670.6,295.8M669.2,294.2L672.0,294.2" stroke="#222" stroke-width="0.9" fill="none"/><circle cx="670.6" cy="290.3" r="1.9" fill="none" stroke="#222" stroke-width="0.9"/>
<path d="M622.7,300.7L625.2,304.4L620.2,304.4Z" fill="none" stroke="#3d9d3a" stroke-width="0.9" stroke-linejoin="round"/>
<text x="631.4" y="305.7" font-family="Liberation Sans" font-size="8.3" font-style="italic" fill="#1a1a1a" textLength="33.9" lengthAdjust="spacingAndGlyphs">B. luteum</text>
<circle cx="670.6" cy="303.5" r="1.9" fill="none" stroke="#222" stroke-width="0.9"/><path d="M671.9,302.2L673.6,300.5M672.0,300.5L673.6,300.5L673.6,302.1" stroke="#222" stroke-width="0.9" fill="none"/>
</svg></body></html>
